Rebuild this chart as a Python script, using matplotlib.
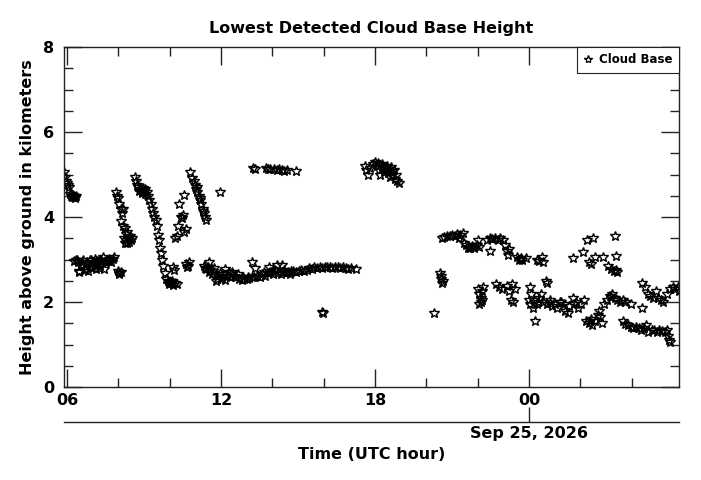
import numpy as np
import matplotlib
matplotlib.use("Agg")
import matplotlib.pyplot as plt
from matplotlib.ticker import MultipleLocator, FixedLocator

# hours since 00 UTC Sep 24 (values > 24 are Sep 25), heights in km
t_early = [5.88, 5.91, 5.94, 5.98, 6.02, 6.06, 6.11, 6.16, 6.21, 6.26, 6.31, 6.34, 6.24, 6.29]
h_early = [5.05, 4.95, 4.85, 4.8, 4.75, 4.7, 4.55, 4.5, 4.48, 4.47, 4.47, 4.5, 4.52, 4.45]

t_low1 = [6.28, 6.33, 6.38, 6.43, 6.48, 6.53, 6.58, 6.63, 6.68, 6.73, 6.78, 6.83, 6.88, 6.93,
          6.98, 7.03, 7.08, 7.13, 7.18, 7.23, 7.28, 7.33, 7.38, 7.43, 7.48, 7.53, 7.58, 7.63,
          7.68, 7.73, 7.78, 7.83, 6.48, 6.68, 6.93, 7.13, 7.28, 7.99, 8.04, 8.09, 8.02]
h_low1 = [2.97, 3.0, 2.98, 2.95, 2.7, 2.85, 2.93, 3.0, 2.78, 2.9, 2.95, 2.72, 2.98, 3.0,
          2.8, 2.95, 3.02, 2.85, 2.97, 2.8, 3.0, 2.98, 3.05, 2.78, 2.95, 3.0, 2.97, 3.02,
          3.0, 2.95, 3.02, 3.05, 2.72, 2.75, 2.82, 2.78, 2.85, 2.72, 2.68, 2.7, 2.66]

t_fall1 = [7.91, 7.95, 7.99, 8.04, 8.09, 8.14, 8.17, 8.11, 8.19, 8.24, 8.29, 8.21, 8.29,
           8.34, 8.39, 8.44, 8.49, 8.54, 8.34, 8.27, 8.41]
h_fall1 = [4.6, 4.5, 4.45, 4.3, 4.2, 4.1, 4.2, 3.9, 3.8, 3.75, 3.6, 3.5, 3.45,
           3.4, 3.5, 3.55, 3.45, 3.5, 3.65, 3.38, 3.42]

t_fall2 = [8.65, 8.68, 8.72, 8.78, 8.85, 8.9, 8.95, 9.0, 9.05, 9.1, 9.15, 9.2, 9.25,
           9.3, 9.35, 9.4, 9.45, 9.5, 9.54, 9.58, 9.62, 9.65, 9.69, 9.74, 9.8, 9.86,
           9.92, 9.98, 10.05, 10.12, 10.2, 10.27, 8.8, 8.92, 9.02, 9.96, 10.08]
h_fall2 = [4.95, 4.85, 4.75, 4.7, 4.65, 4.6, 4.68, 4.62, 4.55, 4.6, 4.5, 4.4, 4.3,
           4.2, 4.1, 4.0, 3.93, 3.8, 3.58, 3.45, 3.27, 3.15, 2.99, 2.85, 2.68, 2.55,
           2.5, 2.42, 2.45, 2.4, 2.45, 2.42, 4.62, 4.57, 4.66, 2.46, 2.5]

t_scat1 = [10.12, 10.17, 10.22, 10.27, 10.32, 10.37, 10.57, 10.42, 10.47, 10.52, 10.62,
           10.57, 10.64, 10.7, 10.74, 10.68]
h_scat1 = [2.82, 2.75, 3.5, 3.55, 3.78, 4.3, 4.52, 4.0, 3.98, 4.05, 3.72,
           3.65, 2.9, 2.85, 2.95, 2.82]

t_fall3 = [10.8, 10.88, 10.93, 10.98, 11.03, 11.08, 11.13, 11.18, 11.23, 11.28, 11.33,
           11.38, 11.41, 11.08, 11.18, 11.28, 11.96]
h_fall3 = [5.06, 4.92, 4.85, 4.75, 4.65, 4.6, 4.5, 4.4, 4.3, 4.2, 4.1,
           4.0, 3.93, 4.7, 4.45, 4.15, 4.59]

t_low2 = [11.33, 11.38, 11.43, 11.48, 11.53, 11.58, 11.63, 11.68, 11.73, 11.79, 11.84, 11.89,
          11.94, 11.99, 12.04, 12.09, 12.14, 12.19, 12.24, 12.29, 12.34, 12.39, 12.49, 12.6,
          12.7, 12.8, 12.9, 13.0, 13.1, 13.2, 13.3, 13.41, 13.51, 13.61, 13.71,
          13.81, 13.91, 14.01, 14.12, 14.22, 14.32, 14.42, 14.52, 14.62, 14.72, 14.82,
          14.93, 15.03, 15.13, 15.23, 15.33, 15.43, 15.53, 15.63, 15.74, 15.84, 15.94,
          16.04, 16.14, 16.24, 16.34, 16.44, 16.55, 16.65, 16.75, 16.85, 16.95, 17.05,
          17.26, 12.14, 13.2, 13.32, 13.86, 14.17, 14.37, 11.53, 15.94, 15.97,
          12.44, 12.65, 12.85, 13.05, 13.66, 14.06, 14.47, 14.67]
h_low2 = [2.85, 2.8, 2.78, 2.82, 2.7, 2.75, 2.65, 2.72, 2.8, 2.5, 2.55, 2.62,
          2.68, 2.55, 2.6, 2.65, 2.52, 2.58, 2.62, 2.7, 2.6, 2.65, 2.62, 2.6,
          2.55, 2.52, 2.55, 2.53, 2.56, 2.58, 2.6, 2.62, 2.6, 2.65, 2.62,
          2.68, 2.7, 2.65, 2.72, 2.68, 2.65, 2.7, 2.68, 2.7, 2.72, 2.72,
          2.7, 2.72, 2.75, 2.73, 2.75, 2.8, 2.78, 2.82, 2.8, 2.82, 2.8,
          2.82, 2.83, 2.82, 2.8, 2.82, 2.82, 2.8, 2.82, 2.8, 2.78, 2.8,
          2.77, 2.78, 2.93, 2.8, 2.83, 2.88, 2.88, 2.95, 1.76, 1.74,
          2.7, 2.66, 2.6, 2.6, 2.7, 2.75, 2.76, 2.66]

t_high1 = [13.26, 13.31, 13.76, 13.81, 13.91, 14.06, 14.16, 14.26, 14.36, 14.46, 14.56, 14.92]
h_high1 = [5.16, 5.12, 5.16, 5.13, 5.14, 5.12, 5.1, 5.12, 5.1, 5.08, 5.11, 5.08]

t_high2 = [17.61, 17.66, 17.73, 17.81, 17.91, 18.01, 18.06, 18.11, 18.16, 18.21, 18.26, 18.31,
           18.36, 18.42, 18.47, 18.52, 18.57, 18.62, 18.67, 18.72, 18.77, 18.82, 18.87, 18.92,
           18.19, 18.33, 18.5, 18.64]
h_high2 = [5.2, 5.1, 5.0, 5.15, 5.25, 5.3, 5.2, 5.28, 5.1, 5.0, 5.25, 5.2,
           5.05, 5.15, 5.2, 5.1, 4.95, 5.18, 5.0, 5.1, 4.9, 5.0, 4.85, 4.8,
           5.22, 5.12, 5.04, 5.08]

t_mid = [20.29, 20.53, 20.57, 20.6, 20.63, 20.55,
         20.61, 20.7, 20.8, 20.9, 21.0, 21.1, 21.2, 21.31, 21.41, 21.26, 21.46, 21.56,
         21.66, 21.76, 21.86, 21.96, 22.01, 22.06, 21.61, 21.71, 21.81,
         22.37, 22.47, 22.57, 22.67, 22.77, 22.87, 22.98, 22.47, 23.08, 23.13, 23.18, 23.23,
         23.54, 23.64, 23.69, 23.74, 23.89, 24.29, 24.39, 24.5, 24.55, 23.59]
h_mid = [1.74, 2.68, 2.55, 2.45, 2.5, 2.62,
         3.5, 3.52, 3.55, 3.55, 3.58, 3.55, 3.6, 3.58, 3.62, 3.5, 3.4, 3.35,
         3.3, 3.32, 3.28, 3.35, 3.45, 3.3, 3.26, 3.28, 3.3,
         3.45, 3.5, 3.48, 3.5, 3.46, 3.5, 3.45, 3.2, 3.35, 3.2, 3.1, 3.25,
         3.05, 3.02, 3.04, 3.0, 3.04, 3.0, 2.97, 3.05, 2.95, 3.0]

t_night = [22.01, 22.06, 22.11, 22.17, 22.06, 22.17, 22.22, 22.11,
           22.72, 22.82, 22.93,
           23.13, 23.23, 23.33, 23.44, 23.28, 23.38,
           24.04, 24.09, 23.99, 24.04, 24.14, 24.19, 24.24, 24.29, 24.39, 24.45, 24.55,
           24.7, 24.65, 24.7, 24.8, 24.9, 25.0, 25.1, 25.2,
           25.26, 25.36, 25.41, 25.51, 25.56, 25.71, 25.81, 25.92, 26.02, 26.12,
           26.22, 26.32, 26.42, 26.47, 26.57, 26.68, 26.73, 26.78, 26.83,
           26.93, 27.03, 27.14, 27.24, 27.34, 27.44, 27.55, 27.65, 27.75, 27.96,
           24.34, 24.8, 25.76, 26.37, 27.19]
h_night = [2.3, 2.2, 2.1, 2.25, 1.95, 2.05, 2.35, 2.0,
           2.42, 2.35, 2.3,
           2.38, 2.25, 2.42, 2.3, 2.05, 2.0,
           2.35, 2.2, 2.05, 1.95, 1.85, 2.05, 1.55, 1.95, 2.1, 2.2, 2.0,
           2.45, 2.5, 1.95, 2.05, 1.9, 1.95, 1.85, 2.0,
           2.0, 1.95, 1.8, 1.75, 1.9, 2.1, 2.0, 1.85, 1.95, 2.05,
           1.55, 1.5, 1.6, 1.45, 1.55, 1.7, 1.8, 1.65, 1.5,
           1.95, 2.05, 2.15, 2.2, 2.1, 2.05, 2.0, 2.05, 2.0, 1.95,
           2.0, 1.98, 1.95, 1.55, 2.12]

t_upper = [25.71, 26.1, 26.26, 26.5, 27.33, 26.32, 26.42, 26.57, 26.88, 27.37,
           27.08, 27.19, 27.29, 27.39, 27.44]
h_upper = [3.04, 3.17, 3.46, 3.51, 3.55, 2.95, 2.9, 3.05, 3.05, 3.08,
           2.85, 2.78, 2.72, 2.75, 2.7]

t_late = [28.41, 27.65, 27.75, 27.86, 27.96, 28.06, 28.17, 28.27, 28.37, 28.47, 28.57, 28.62,
          28.41, 28.51, 28.62, 28.72, 28.82, 28.93, 29.03, 29.13, 29.23,
          29.39, 29.49, 29.59, 29.69, 29.8, 29.83,
          28.77, 28.87, 28.98, 29.08, 29.18, 29.28, 29.39, 29.44, 29.41, 29.49]
h_late = [1.86, 1.55, 1.48, 1.45, 1.42, 1.4, 1.42, 1.38, 1.35, 1.4, 1.45, 1.3,
          2.45, 2.35, 2.2, 2.15, 2.1, 2.25, 2.1, 2.05, 2.0,
          2.2, 2.3, 2.35, 2.3, 2.35, 2.25,
          1.35, 1.33, 1.3, 1.35, 1.32, 1.3, 1.35, 1.1, 1.2, 1.05]

t_all = np.concatenate([t_early, t_low1, t_fall1, t_fall2, t_scat1, t_fall3, t_low2,
                        t_high1, t_high2, t_mid, t_night, t_upper, t_late])
h_all = np.concatenate([h_early, h_low1, h_fall1, h_fall2, h_scat1, h_fall3, h_low2,
                        h_high1, h_high2, h_mid, h_night, h_upper, h_late])

hour_ticks = [6, 12, 18, 24]
hour_labels = ["06", "12", "18", "00"]
t_start, t_end = 5.88, 29.84

W, H = 701, 480
fig = plt.figure(figsize=(W / 100, H / 100), dpi=100)
L, R, T, B = 64, 679, 47, 387
ax = fig.add_axes([L / W, 1 - B / H, (R - L) / W, (B - T) / H])

ax.plot(t_all, h_all, ls="none", marker="*", ms=7, mfc="none", mec="black",
        mew=1.0, label="Cloud Base")

ax.set_xlim(t_start, t_end)
ax.set_ylim(0, 8)
ax.xaxis.set_major_locator(FixedLocator(hour_ticks))
ax.set_xticklabels(hour_labels)
ax.xaxis.set_minor_locator(MultipleLocator(2))
ax.yaxis.set_major_locator(MultipleLocator(2))
ax.yaxis.set_minor_locator(MultipleLocator(0.5))
ax.tick_params(which="both", direction="in", top=True, right=True, width=1.0,
               labelsize=11.5, color="#222222")
ax.tick_params(which="major", length=13)
ax.tick_params(which="minor", length=6.5)
ax.tick_params(axis="x", pad=4)
ax.tick_params(axis="y", pad=7)
for lab in ax.get_xticklabels() + ax.get_yticklabels():
    lab.set_fontweight("bold")
for s in ax.spines.values():
    s.set_linewidth(1.0)
    s.set_color("#222222")

ax.set_title("Lowest Detected Cloud Base Height", fontsize=11.5, fontweight="bold", pad=10)
ax.set_ylabel("Height above ground in kilometers", fontsize=11.5, fontweight="bold", labelpad=6)

leg = ax.legend(loc="upper right", borderaxespad=0, fancybox=False, framealpha=1,
                edgecolor="#222222", handlelength=0.8, handletextpad=0.5, markerscale=0.85,
                prop={"weight": "bold", "size": 8.5}, borderpad=0.55)
leg.get_frame().set_linewidth(0.8)

# date axis below
ax2 = fig.add_axes([L / W, 1 - 422 / H, (R - L) / W, 0.0001])
ax2.set_xlim(t_start, t_end)
ax2.set_yticks([])
for k in ["left", "right", "top"]:
    ax2.spines[k].set_visible(False)
ax2.spines["bottom"].set_linewidth(1.0)
ax2.spines["bottom"].set_color("#222222")
ax2.set_xticks([24])
ax2.set_xticklabels(["Sep 25, 2026"], fontweight="bold", fontsize=11.5)
ax2.tick_params(axis="x", direction="in", length=11, width=1.0, pad=3, color="#222222")
ax2.set_xlabel("Time (UTC hour)", fontsize=11.5, fontweight="bold", labelpad=4)

fig.savefig("out.png", dpi=100)
